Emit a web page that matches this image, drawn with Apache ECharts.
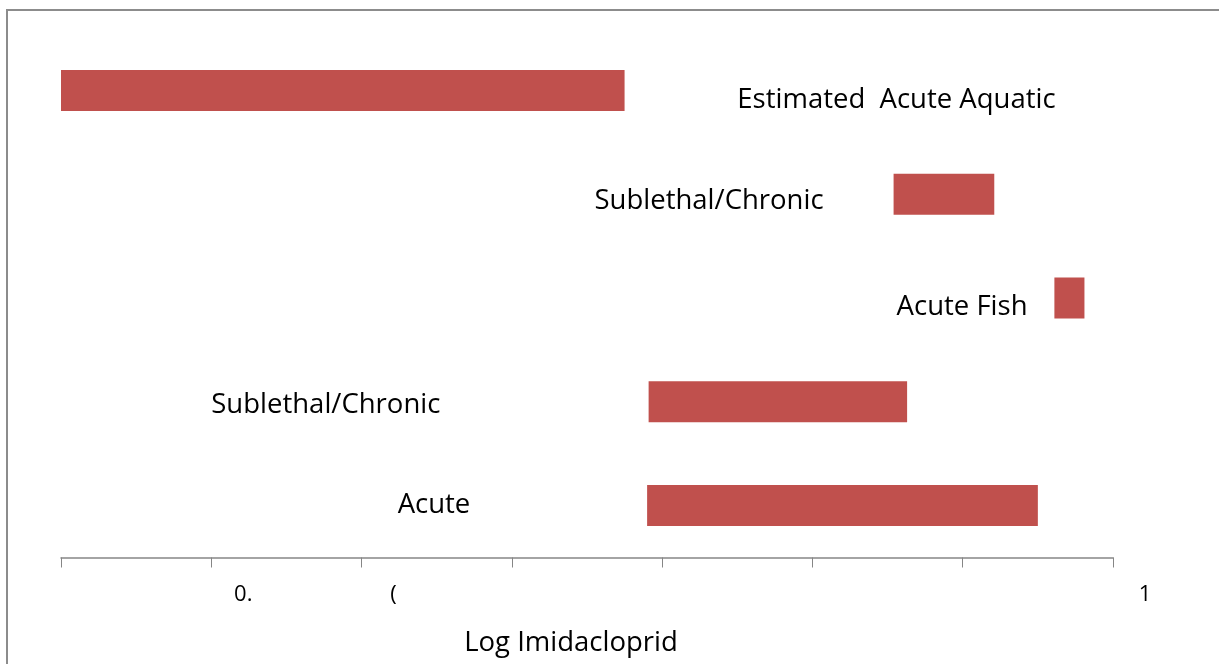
<!DOCTYPE html>
<html><head><meta charset="utf-8">
<script src="https://cdn.jsdelivr.net/npm/echarts@6/dist/echarts.min.js"></script>
<style>html,body{margin:0;padding:0;background:#fff}#c{width:1219px;height:664px}</style>
</head><body><div id="c"></div>
<script>
// categories (bottom to top)
const categories = ['Acute', 'Sublethal/Chronic (2)', 'Acute Fish', 'Sublethal/Chronic', 'Estimated  Acute Aquatic'];
// bar ranges in log10 units
const barStart = [-3.10, -3.09, -0.39, -1.46, -7.00];
const barEnd   = [-0.50, -1.37, -0.19, -0.79, -3.25];
// annotation texts and their left anchors (log10 units)
const labelTexts  = ['Acute', 'Sublethal/Chronic', 'Acute Fish', 'Sublethal/Chronic', 'Estimated  Acute Aquatic'];
const labelAnchor = [-4.76, -6.00, -1.44, -3.45, -2.50];
// tick labels at -7..0
const tickValues = [-7, -6, -5, -4, -3, -2, -1, 0];
const tickLabels = ['', '0.', '(', '', '', '', '', '1'];
const axisTitle = 'Log Imidacloprid';

const FONT = 'Open Sans';
const FS = 27.5;
const labelNudge = [0, 3, 9.5, 7, 10]; // vertical pixel nudges for annotation texts
const chart = echarts.init(document.getElementById('c'));
const barData = categories.map((c, i) => [barStart[i], barEnd[i], i]);
const textData = categories.map((c, i) => [labelAnchor[i], i, labelTexts[i]]);

chart.setOption({
  animation: false,
  graphic: [{type: 'rect', shape: {x: 7, y: 10, width: 1400, height: 800},
    style: {fill: 'none', stroke: '#8c8c8c', lineWidth: 2}, silent: true}],
  grid: {left: 61, right: 1219 - 1113, top: 38.5, bottom: 664 - 557.5},
  xAxis: {
    type: 'value', min: -7, max: 0, interval: 1,
    axisLine: {show: true, lineStyle: {color: '#868686', width: 1.5}},
    axisTick: {show: true, length: 10, inside: false, lineStyle: {color: '#868686', width: 1}},
    splitLine: {show: false},
    axisLabel: {
      margin: 26, fontFamily: FONT, fontSize: 22, color: '#000',
      formatter: v => { const i = tickValues.indexOf(Math.round(v)); return i >= 0 && tickLabels[i] ? '{a|' + tickLabels[i] + '}' : ''; },
      rich: {a: {fontFamily: FONT, fontSize: 22, color: '#000', padding: [0, 0, 0, 64]}}
    },
    name: axisTitle, nameLocation: 'middle', nameGap: 72,
    nameTextStyle: {fontFamily: FONT, fontSize: FS, color: '#000', padding: [0, 32, 0, 0]}
  },
  yAxis: {
    type: 'category', data: categories,
    axisLine: {show: false}, axisTick: {show: false}, axisLabel: {show: false}, splitLine: {show: false}
  },
  series: [{
    type: 'custom',
    renderItem: (params, api) => {
      const s = api.coord([api.value(0), api.value(2)]);
      const e = api.coord([api.value(1), api.value(2)]);
      const h = api.size([0, 1])[1] * 0.395;
      return {type: 'rect', shape: {x: s[0], y: s[1] - h / 2, width: e[0] - s[0], height: h},
        style: {fill: '#c0504d'}};
    },
    encode: {x: [0, 1], y: 2},
    data: barData
  }, {
    type: 'custom',
    renderItem: (params, api) => {
      const p = api.coord([api.value(0), api.value(1)]);
      return {type: 'text', x: p[0], y: p[1] + labelNudge[params.dataIndex],
        style: {text: textData[params.dataIndex][2], fontFamily: FONT, fontSize: FS, fill: '#000',
          textAlign: 'left', textVerticalAlign: 'middle'}};
    },
    encode: {x: 0, y: 1},
    data: textData
  }]
});
</script></body></html>
